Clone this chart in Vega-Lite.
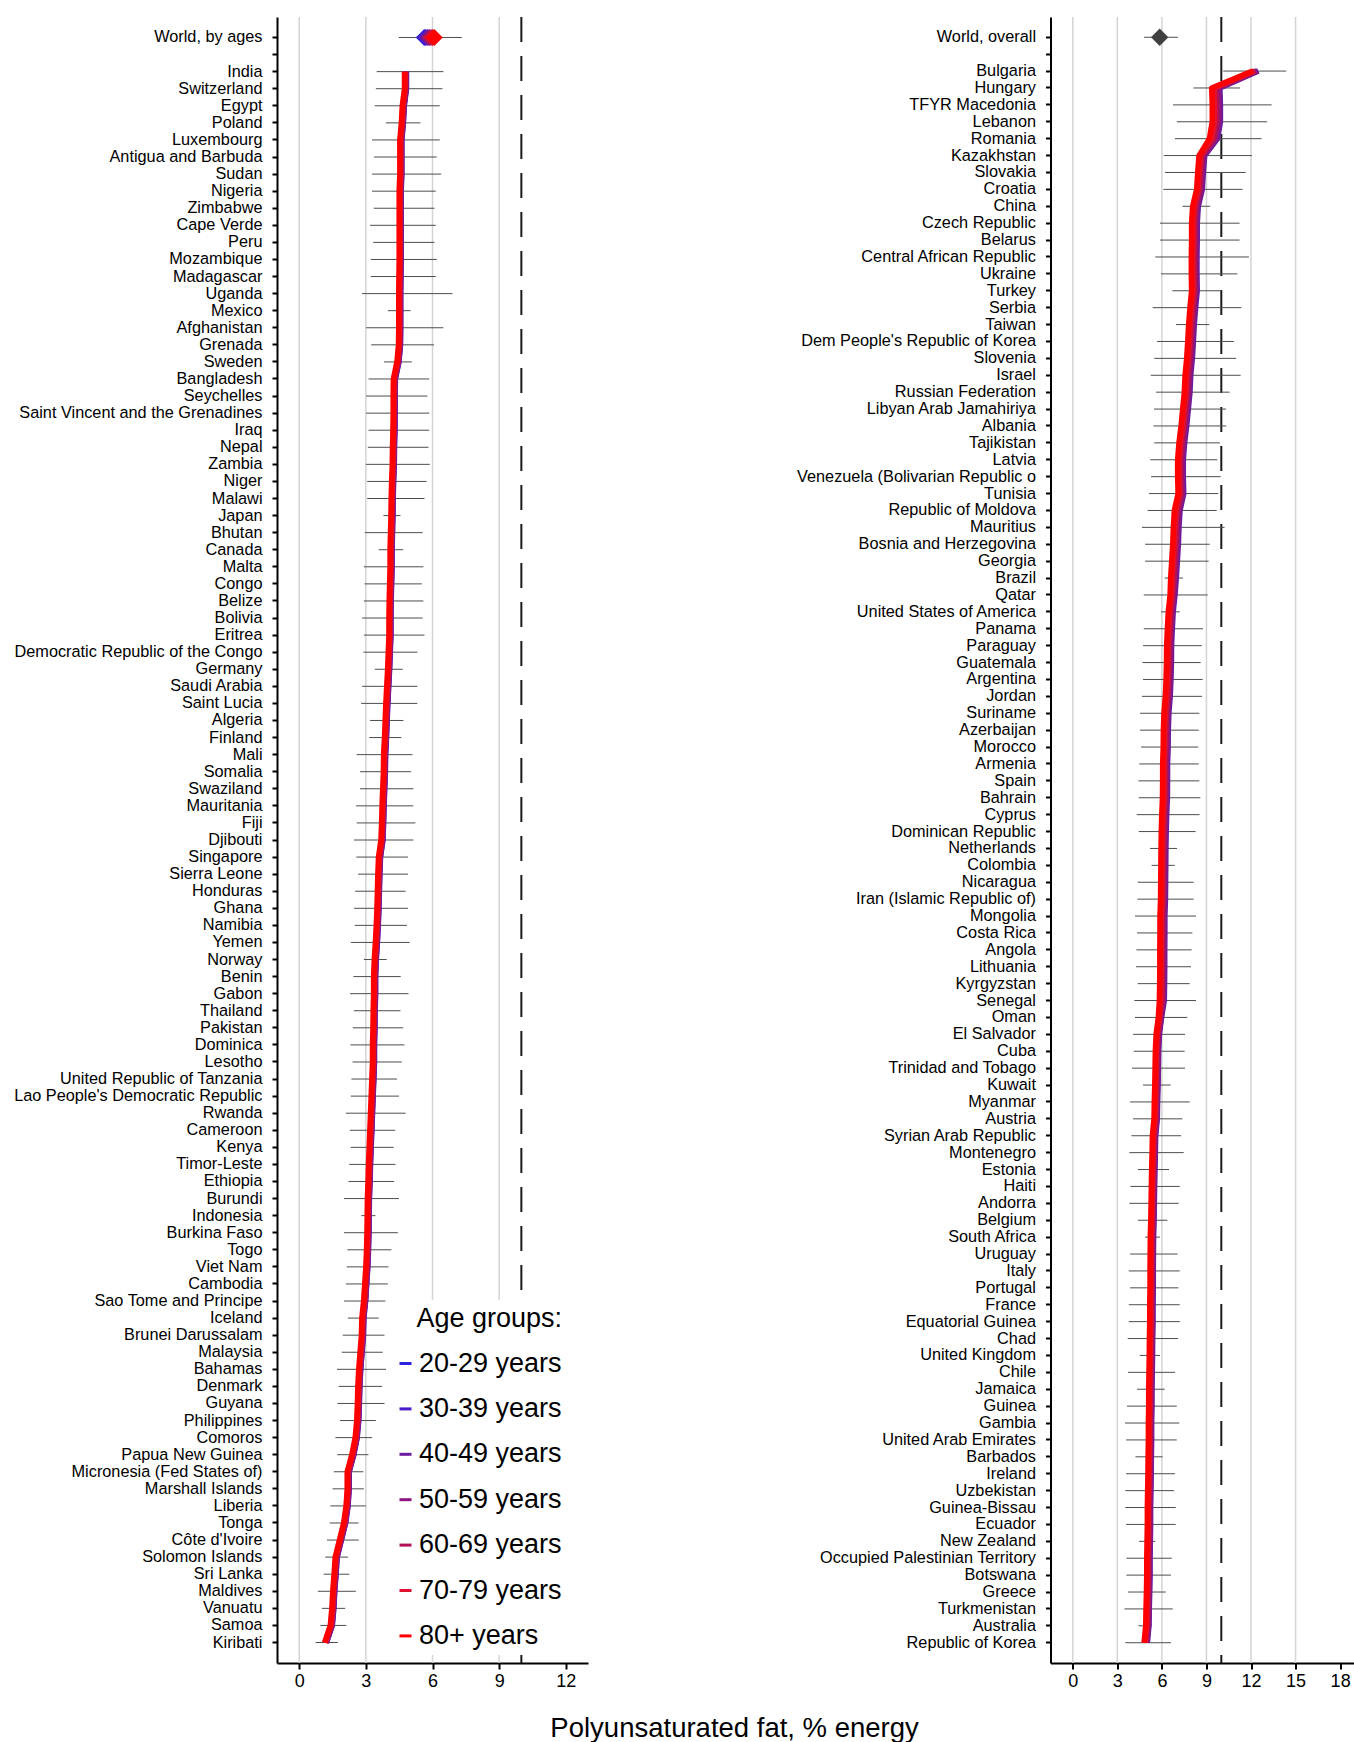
{
"$schema":"https://vega.github.io/schema/vega-lite/v6.json",
"background":"white",
"padding":{"left":13,"top":16,"right":0,"bottom":0},
"config":{"font":"Liberation Sans","view":{"stroke":null},
"axisY":{"domainColor":"black","domainWidth":2,"tickColor":"black","tickWidth":2,"tickSize":5,"labelFontSize":16.3,"labelColor":"black","labelPadding":10,"title":null,"grid":false,"labelLimit":400},
"axisX":{"domainColor":"black","domainWidth":2,"tickColor":"black","tickWidth":2,"tickSize":6,"labelFontSize":18,"labelColor":"black","labelPadding":3,"grid":false,"title":null}},
"title":{"text":"Polyunsaturated fat, % energy","orient":"bottom","anchor":"middle","fontSize":27.5,"fontWeight":"normal","color":"black","offset":25,"dx":51},
"spacing":207.5,
"resolve":{"scale":{"color":"independent","x":"independent","y":"independent"},"legend":{"color":"independent"}},
"datasets":{
"L":[
{"c":"World, by ages","i":1,"lo":4.48,"hi":7.32,"a20":5.63,"a30":5.70,"a40":5.78,"a50":5.85,"a60":5.93,"a70":6.00,"a80":6.08},
{"c":" ","i":2},
{"c":"India","i":3,"lo":3.49,"hi":6.49,"a20":4.80,"a30":4.82,"a40":4.83,"a50":4.81,"a60":4.79,"a70":4.77,"a80":4.74},
{"c":"Switzerland","i":4,"lo":3.45,"hi":6.45,"a20":4.80,"a30":4.82,"a40":4.83,"a50":4.81,"a60":4.79,"a70":4.77,"a80":4.74},
{"c":"Egypt","i":5,"lo":3.40,"hi":6.33,"a20":4.70,"a30":4.72,"a40":4.73,"a50":4.71,"a60":4.69,"a70":4.67,"a80":4.64},
{"c":"Poland","i":6,"lo":3.90,"hi":5.46,"a20":4.66,"a30":4.68,"a40":4.69,"a50":4.67,"a60":4.65,"a70":4.63,"a80":4.60},
{"c":"Luxembourg","i":7,"lo":3.28,"hi":6.33,"a20":4.59,"a30":4.61,"a40":4.62,"a50":4.60,"a60":4.58,"a70":4.56,"a80":4.53},
{"c":"Antigua and Barbuda","i":8,"lo":3.37,"hi":6.19,"a20":4.59,"a30":4.61,"a40":4.62,"a50":4.60,"a60":4.58,"a70":4.56,"a80":4.53},
{"c":"Sudan","i":9,"lo":3.28,"hi":6.39,"a20":4.59,"a30":4.61,"a40":4.62,"a50":4.60,"a60":4.58,"a70":4.56,"a80":4.53},
{"c":"Nigeria","i":10,"lo":3.28,"hi":6.15,"a20":4.56,"a30":4.58,"a40":4.59,"a50":4.57,"a60":4.55,"a70":4.53,"a80":4.50},
{"c":"Zimbabwe","i":11,"lo":3.36,"hi":6.09,"a20":4.56,"a30":4.58,"a40":4.59,"a50":4.57,"a60":4.55,"a70":4.53,"a80":4.50},
{"c":"Cape Verde","i":12,"lo":3.19,"hi":6.15,"a20":4.56,"a30":4.58,"a40":4.59,"a50":4.57,"a60":4.55,"a70":4.53,"a80":4.50},
{"c":"Peru","i":13,"lo":3.33,"hi":6.09,"a20":4.56,"a30":4.58,"a40":4.59,"a50":4.57,"a60":4.55,"a70":4.53,"a80":4.50},
{"c":"Mozambique","i":14,"lo":3.22,"hi":6.19,"a20":4.56,"a30":4.58,"a40":4.59,"a50":4.57,"a60":4.55,"a70":4.53,"a80":4.50},
{"c":"Madagascar","i":15,"lo":3.22,"hi":6.15,"a20":4.55,"a30":4.57,"a40":4.58,"a50":4.56,"a60":4.54,"a70":4.52,"a80":4.49},
{"c":"Uganda","i":16,"lo":2.83,"hi":6.90,"a20":4.54,"a30":4.56,"a40":4.57,"a50":4.55,"a60":4.53,"a70":4.51,"a80":4.48},
{"c":"Mexico","i":17,"lo":3.99,"hi":5.01,"a20":4.54,"a30":4.56,"a40":4.57,"a50":4.55,"a60":4.53,"a70":4.51,"a80":4.48},
{"c":"Afghanistan","i":18,"lo":3.01,"hi":6.49,"a20":4.54,"a30":4.56,"a40":4.57,"a50":4.55,"a60":4.53,"a70":4.51,"a80":4.48},
{"c":"Grenada","i":19,"lo":3.24,"hi":6.07,"a20":4.53,"a30":4.55,"a40":4.56,"a50":4.54,"a60":4.52,"a70":4.50,"a80":4.47},
{"c":"Sweden","i":20,"lo":3.82,"hi":5.07,"a20":4.46,"a30":4.48,"a40":4.49,"a50":4.47,"a60":4.45,"a70":4.43,"a80":4.40},
{"c":"Bangladesh","i":21,"lo":3.12,"hi":5.85,"a20":4.30,"a30":4.32,"a40":4.33,"a50":4.31,"a60":4.29,"a70":4.27,"a80":4.24},
{"c":"Seychelles","i":22,"lo":3.01,"hi":5.77,"a20":4.29,"a30":4.31,"a40":4.32,"a50":4.30,"a60":4.28,"a70":4.26,"a80":4.23},
{"c":"Saint Vincent and the Grenadines","i":23,"lo":3.01,"hi":5.85,"a20":4.29,"a30":4.31,"a40":4.32,"a50":4.30,"a60":4.28,"a70":4.26,"a80":4.23},
{"c":"Iraq","i":24,"lo":3.12,"hi":5.85,"a20":4.28,"a30":4.30,"a40":4.31,"a50":4.29,"a60":4.27,"a70":4.25,"a80":4.22},
{"c":"Nepal","i":25,"lo":3.09,"hi":5.82,"a20":4.26,"a30":4.28,"a40":4.29,"a50":4.27,"a60":4.25,"a70":4.23,"a80":4.20},
{"c":"Zambia","i":26,"lo":3.00,"hi":5.88,"a20":4.25,"a30":4.27,"a40":4.28,"a50":4.26,"a60":4.24,"a70":4.22,"a80":4.19},
{"c":"Niger","i":27,"lo":3.06,"hi":5.73,"a20":4.22,"a30":4.24,"a40":4.25,"a50":4.23,"a60":4.21,"a70":4.19,"a80":4.16},
{"c":"Malawi","i":28,"lo":3.06,"hi":5.64,"a20":4.20,"a30":4.22,"a40":4.23,"a50":4.21,"a60":4.19,"a70":4.17,"a80":4.14},
{"c":"Japan","i":29,"lo":3.79,"hi":4.56,"a20":4.19,"a30":4.21,"a40":4.22,"a50":4.20,"a60":4.18,"a70":4.16,"a80":4.13},
{"c":"Bhutan","i":30,"lo":2.95,"hi":5.56,"a20":4.17,"a30":4.19,"a40":4.20,"a50":4.18,"a60":4.16,"a70":4.14,"a80":4.11},
{"c":"Canada","i":31,"lo":3.58,"hi":4.68,"a20":4.15,"a30":4.17,"a40":4.18,"a50":4.16,"a60":4.14,"a70":4.12,"a80":4.09},
{"c":"Malta","i":32,"lo":2.91,"hi":5.59,"a20":4.15,"a30":4.17,"a40":4.18,"a50":4.16,"a60":4.14,"a70":4.12,"a80":4.09},
{"c":"Congo","i":33,"lo":2.94,"hi":5.52,"a20":4.13,"a30":4.15,"a40":4.16,"a50":4.14,"a60":4.12,"a70":4.10,"a80":4.07},
{"c":"Belize","i":34,"lo":2.91,"hi":5.59,"a20":4.11,"a30":4.13,"a40":4.14,"a50":4.12,"a60":4.10,"a70":4.08,"a80":4.05},
{"c":"Bolivia","i":35,"lo":2.83,"hi":5.56,"a20":4.10,"a30":4.12,"a40":4.13,"a50":4.11,"a60":4.09,"a70":4.07,"a80":4.04},
{"c":"Eritrea","i":36,"lo":2.91,"hi":5.64,"a20":4.10,"a30":4.12,"a40":4.13,"a50":4.11,"a60":4.09,"a70":4.07,"a80":4.04},
{"c":"Democratic Republic of the Congo","i":37,"lo":2.89,"hi":5.32,"a20":4.07,"a30":4.09,"a40":4.10,"a50":4.08,"a60":4.06,"a70":4.04,"a80":4.01},
{"c":"Germany","i":38,"lo":3.40,"hi":4.66,"a20":4.04,"a30":4.06,"a40":4.07,"a50":4.05,"a60":4.03,"a70":4.01,"a80":3.98},
{"c":"Saudi Arabia","i":39,"lo":2.83,"hi":5.32,"a20":4.00,"a30":4.02,"a40":4.03,"a50":4.01,"a60":3.99,"a70":3.97,"a80":3.94},
{"c":"Saint Lucia","i":40,"lo":2.79,"hi":5.32,"a20":3.96,"a30":3.98,"a40":3.99,"a50":3.97,"a60":3.95,"a70":3.93,"a80":3.90},
{"c":"Algeria","i":41,"lo":3.19,"hi":4.69,"a20":3.93,"a30":3.95,"a40":3.96,"a50":3.94,"a60":3.92,"a70":3.90,"a80":3.87},
{"c":"Finland","i":42,"lo":3.15,"hi":4.60,"a20":3.90,"a30":3.92,"a40":3.93,"a50":3.91,"a60":3.89,"a70":3.87,"a80":3.84},
{"c":"Mali","i":43,"lo":2.59,"hi":5.10,"a20":3.86,"a30":3.88,"a40":3.89,"a50":3.87,"a60":3.85,"a70":3.83,"a80":3.80},
{"c":"Somalia","i":44,"lo":2.74,"hi":5.04,"a20":3.85,"a30":3.87,"a40":3.88,"a50":3.86,"a60":3.84,"a70":3.82,"a80":3.79},
{"c":"Swaziland","i":45,"lo":2.74,"hi":5.14,"a20":3.82,"a30":3.84,"a40":3.85,"a50":3.83,"a60":3.81,"a70":3.79,"a80":3.76},
{"c":"Mauritania","i":46,"lo":2.56,"hi":5.14,"a20":3.79,"a30":3.81,"a40":3.82,"a50":3.80,"a60":3.78,"a70":3.76,"a80":3.73},
{"c":"Fiji","i":47,"lo":2.59,"hi":5.23,"a20":3.77,"a30":3.79,"a40":3.80,"a50":3.78,"a60":3.76,"a70":3.74,"a80":3.71},
{"c":"Djibouti","i":48,"lo":2.47,"hi":5.14,"a20":3.74,"a30":3.76,"a40":3.77,"a50":3.75,"a60":3.73,"a70":3.71,"a80":3.68},
{"c":"Singapore","i":49,"lo":2.57,"hi":4.90,"a20":3.63,"a30":3.65,"a40":3.66,"a50":3.64,"a60":3.62,"a70":3.60,"a80":3.57},
{"c":"Sierra Leone","i":50,"lo":2.65,"hi":4.90,"a20":3.60,"a30":3.62,"a40":3.63,"a50":3.61,"a60":3.59,"a70":3.57,"a80":3.54},
{"c":"Honduras","i":51,"lo":2.52,"hi":4.79,"a20":3.58,"a30":3.60,"a40":3.61,"a50":3.59,"a60":3.57,"a70":3.55,"a80":3.52},
{"c":"Ghana","i":52,"lo":2.47,"hi":4.90,"a20":3.56,"a30":3.58,"a40":3.59,"a50":3.57,"a60":3.55,"a70":3.53,"a80":3.50},
{"c":"Namibia","i":53,"lo":2.50,"hi":4.85,"a20":3.53,"a30":3.55,"a40":3.56,"a50":3.54,"a60":3.52,"a70":3.50,"a80":3.47},
{"c":"Yemen","i":54,"lo":2.32,"hi":4.97,"a20":3.49,"a30":3.51,"a40":3.52,"a50":3.50,"a60":3.48,"a70":3.46,"a80":3.43},
{"c":"Norway","i":55,"lo":2.91,"hi":3.94,"a20":3.44,"a30":3.46,"a40":3.47,"a50":3.45,"a60":3.43,"a70":3.41,"a80":3.38},
{"c":"Benin","i":56,"lo":2.44,"hi":4.57,"a20":3.41,"a30":3.43,"a40":3.44,"a50":3.42,"a60":3.40,"a70":3.38,"a80":3.35},
{"c":"Gabon","i":57,"lo":2.29,"hi":4.92,"a20":3.41,"a30":3.43,"a40":3.44,"a50":3.42,"a60":3.40,"a70":3.38,"a80":3.35},
{"c":"Thailand","i":58,"lo":2.46,"hi":4.56,"a20":3.39,"a30":3.41,"a40":3.42,"a50":3.40,"a60":3.38,"a70":3.36,"a80":3.33},
{"c":"Pakistan","i":59,"lo":2.41,"hi":4.68,"a20":3.38,"a30":3.40,"a40":3.41,"a50":3.39,"a60":3.37,"a70":3.35,"a80":3.32},
{"c":"Dominica","i":60,"lo":2.31,"hi":4.74,"a20":3.36,"a30":3.38,"a40":3.39,"a50":3.37,"a60":3.35,"a70":3.33,"a80":3.30},
{"c":"Lesotho","i":61,"lo":2.40,"hi":4.62,"a20":3.36,"a30":3.38,"a40":3.39,"a50":3.37,"a60":3.35,"a70":3.33,"a80":3.30},
{"c":"United Republic of Tanzania","i":62,"lo":2.35,"hi":4.40,"a20":3.33,"a30":3.35,"a40":3.36,"a50":3.34,"a60":3.32,"a70":3.30,"a80":3.27},
{"c":"Lao People's Democratic Republic","i":63,"lo":2.32,"hi":4.49,"a20":3.30,"a30":3.32,"a40":3.33,"a50":3.31,"a60":3.29,"a70":3.27,"a80":3.24},
{"c":"Rwanda","i":64,"lo":2.10,"hi":4.79,"a20":3.27,"a30":3.29,"a40":3.30,"a50":3.28,"a60":3.26,"a70":3.24,"a80":3.21},
{"c":"Cameroon","i":65,"lo":2.28,"hi":4.32,"a20":3.24,"a30":3.26,"a40":3.27,"a50":3.25,"a60":3.23,"a70":3.21,"a80":3.18},
{"c":"Kenya","i":66,"lo":2.32,"hi":4.25,"a20":3.21,"a30":3.23,"a40":3.24,"a50":3.22,"a60":3.20,"a70":3.18,"a80":3.15},
{"c":"Timor-Leste","i":67,"lo":2.25,"hi":4.33,"a20":3.18,"a30":3.20,"a40":3.21,"a50":3.19,"a60":3.17,"a70":3.15,"a80":3.12},
{"c":"Ethiopia","i":68,"lo":2.22,"hi":4.27,"a20":3.16,"a30":3.18,"a40":3.19,"a50":3.17,"a60":3.15,"a70":3.13,"a80":3.10},
{"c":"Burundi","i":69,"lo":2.02,"hi":4.49,"a20":3.13,"a30":3.15,"a40":3.16,"a50":3.14,"a60":3.12,"a70":3.10,"a80":3.07},
{"c":"Indonesia","i":70,"lo":2.79,"hi":3.43,"a20":3.12,"a30":3.14,"a40":3.15,"a50":3.13,"a60":3.11,"a70":3.09,"a80":3.06},
{"c":"Burkina Faso","i":71,"lo":2.02,"hi":4.44,"a20":3.11,"a30":3.13,"a40":3.14,"a50":3.12,"a60":3.10,"a70":3.08,"a80":3.05},
{"c":"Togo","i":72,"lo":2.17,"hi":4.15,"a20":3.09,"a30":3.11,"a40":3.12,"a50":3.10,"a60":3.08,"a70":3.06,"a80":3.03},
{"c":"Viet Nam","i":73,"lo":2.14,"hi":4.02,"a20":3.06,"a30":3.08,"a40":3.09,"a50":3.07,"a60":3.05,"a70":3.03,"a80":3.00},
{"c":"Cambodia","i":74,"lo":2.10,"hi":3.99,"a20":3.01,"a30":3.03,"a40":3.04,"a50":3.02,"a60":3.00,"a70":2.98,"a80":2.95},
{"c":"Sao Tome and Principe","i":75,"lo":2.02,"hi":3.88,"a20":2.96,"a30":2.98,"a40":2.99,"a50":2.97,"a60":2.95,"a70":2.93,"a80":2.90},
{"c":"Iceland","i":76,"lo":2.19,"hi":3.58,"a20":2.88,"a30":2.90,"a40":2.91,"a50":2.89,"a60":2.87,"a70":2.85,"a80":2.82},
{"c":"Brunei Darussalam","i":77,"lo":1.96,"hi":3.84,"a20":2.86,"a30":2.88,"a40":2.89,"a50":2.87,"a60":2.85,"a70":2.83,"a80":2.80},
{"c":"Malaysia","i":78,"lo":1.92,"hi":3.76,"a20":2.80,"a30":2.82,"a40":2.83,"a50":2.81,"a60":2.79,"a70":2.77,"a80":2.74},
{"c":"Bahamas","i":79,"lo":1.70,"hi":3.91,"a20":2.74,"a30":2.76,"a40":2.77,"a50":2.75,"a60":2.73,"a70":2.71,"a80":2.68},
{"c":"Denmark","i":80,"lo":1.77,"hi":3.73,"a20":2.70,"a30":2.72,"a40":2.73,"a50":2.71,"a60":2.69,"a70":2.67,"a80":2.64},
{"c":"Guyana","i":81,"lo":1.72,"hi":3.84,"a20":2.68,"a30":2.70,"a40":2.71,"a50":2.69,"a60":2.67,"a70":2.65,"a80":2.62},
{"c":"Philippines","i":82,"lo":1.84,"hi":3.45,"a20":2.65,"a30":2.67,"a40":2.68,"a50":2.66,"a60":2.64,"a70":2.62,"a80":2.59},
{"c":"Comoros","i":83,"lo":1.63,"hi":3.28,"a20":2.58,"a30":2.60,"a40":2.61,"a50":2.59,"a60":2.57,"a70":2.55,"a80":2.52},
{"c":"Papua New Guinea","i":84,"lo":1.71,"hi":3.12,"a20":2.43,"a30":2.45,"a40":2.46,"a50":2.44,"a60":2.42,"a70":2.40,"a80":2.37},
{"c":"Micronesia (Fed  States of)","i":85,"lo":1.56,"hi":2.89,"a20":2.22,"a30":2.24,"a40":2.25,"a50":2.23,"a60":2.21,"a70":2.19,"a80":2.16},
{"c":"Marshall Islands","i":86,"lo":1.50,"hi":2.91,"a20":2.22,"a30":2.24,"a40":2.25,"a50":2.23,"a60":2.21,"a70":2.19,"a80":2.16},
{"c":"Liberia","i":87,"lo":1.40,"hi":3.00,"a20":2.17,"a30":2.19,"a40":2.20,"a50":2.18,"a60":2.16,"a70":2.14,"a80":2.11},
{"c":"Tonga","i":88,"lo":1.37,"hi":2.67,"a20":2.06,"a30":2.08,"a40":2.09,"a50":2.07,"a60":2.05,"a70":2.03,"a80":2.00},
{"c":"Côte d'Ivoire","i":89,"lo":1.25,"hi":2.68,"a20":1.87,"a30":1.89,"a40":1.90,"a50":1.88,"a60":1.86,"a70":1.84,"a80":1.81},
{"c":"Solomon Islands","i":90,"lo":1.17,"hi":2.20,"a20":1.68,"a30":1.70,"a40":1.71,"a50":1.69,"a60":1.67,"a70":1.65,"a80":1.62},
{"c":"Sri Lanka","i":91,"lo":1.10,"hi":2.26,"a20":1.63,"a30":1.65,"a40":1.66,"a50":1.64,"a60":1.62,"a70":1.60,"a80":1.57},
{"c":"Maldives","i":92,"lo":0.84,"hi":2.55,"a20":1.57,"a30":1.59,"a40":1.60,"a50":1.58,"a60":1.56,"a70":1.54,"a80":1.51},
{"c":"Vanuatu","i":93,"lo":1.02,"hi":2.07,"a20":1.53,"a30":1.55,"a40":1.56,"a50":1.54,"a60":1.52,"a70":1.50,"a80":1.47},
{"c":"Samoa","i":94,"lo":0.95,"hi":2.12,"a20":1.46,"a30":1.48,"a40":1.49,"a50":1.47,"a60":1.45,"a70":1.43,"a80":1.40},
{"c":"Kiribati","i":95,"lo":0.74,"hi":1.74,"a20":1.20,"a30":1.22,"a40":1.23,"a50":1.21,"a60":1.19,"a70":1.17,"a80":1.14}
],
"R":[
{"c":"World, overall","i":1,"lo":4.80,"hi":7.08,"w":5.85},
{"c":" ","i":2},
{"c":"Bulgaria","i":3,"lo":10.13,"hi":14.37,"a20":12.38,"a30":12.44,"a40":12.50,"a50":12.42,"a60":12.32,"a70":12.22,"a80":12.10},
{"c":"Hungary","i":4,"lo":8.12,"hi":11.26,"a20":9.74,"a30":9.82,"a40":9.90,"a50":9.79,"a60":9.65,"a70":9.51,"a80":9.35},
{"c":"TFYR Macedonia","i":5,"lo":6.75,"hi":13.39,"a20":9.78,"a30":9.86,"a40":9.94,"a50":9.83,"a60":9.69,"a70":9.55,"a80":9.39},
{"c":"Lebanon","i":6,"lo":7.00,"hi":13.09,"a20":9.78,"a30":9.86,"a40":9.94,"a50":9.83,"a60":9.69,"a70":9.55,"a80":9.39},
{"c":"Romania","i":7,"lo":6.88,"hi":12.71,"a20":9.59,"a30":9.67,"a40":9.75,"a50":9.64,"a60":9.50,"a70":9.36,"a80":9.20},
{"c":"Kazakhstan","i":8,"lo":6.12,"hi":12.06,"a20":8.77,"a30":8.82,"a40":8.88,"a50":8.80,"a60":8.71,"a70":8.61,"a80":8.50},
{"c":"Slovakia","i":9,"lo":6.21,"hi":11.64,"a20":8.68,"a30":8.73,"a40":8.79,"a50":8.71,"a60":8.62,"a70":8.52,"a80":8.41},
{"c":"Croatia","i":10,"lo":6.10,"hi":11.43,"a20":8.61,"a30":8.66,"a40":8.72,"a50":8.64,"a60":8.55,"a70":8.45,"a80":8.34},
{"c":"China","i":11,"lo":7.38,"hi":9.26,"a20":8.34,"a30":8.39,"a40":8.45,"a50":8.37,"a60":8.28,"a70":8.18,"a80":8.07},
{"c":"Czech Republic","i":12,"lo":5.87,"hi":11.23,"a20":8.27,"a30":8.32,"a40":8.38,"a50":8.30,"a60":8.21,"a70":8.11,"a80":8.00},
{"c":"Belarus","i":13,"lo":5.87,"hi":11.23,"a20":8.27,"a30":8.32,"a40":8.38,"a50":8.30,"a60":8.21,"a70":8.11,"a80":8.00},
{"c":"Central African Republic","i":14,"lo":5.56,"hi":11.86,"a20":8.25,"a30":8.30,"a40":8.36,"a50":8.28,"a60":8.19,"a70":8.09,"a80":7.98},
{"c":"Ukraine","i":15,"lo":5.94,"hi":11.08,"a20":8.25,"a30":8.30,"a40":8.36,"a50":8.28,"a60":8.19,"a70":8.09,"a80":7.98},
{"c":"Turkey","i":16,"lo":6.70,"hi":9.91,"a20":8.27,"a30":8.32,"a40":8.38,"a50":8.30,"a60":8.21,"a70":8.11,"a80":8.00},
{"c":"Serbia","i":17,"lo":5.38,"hi":11.35,"a20":8.16,"a30":8.21,"a40":8.27,"a50":8.19,"a60":8.10,"a70":8.00,"a80":7.89},
{"c":"Taiwan","i":18,"lo":6.95,"hi":9.19,"a20":8.07,"a30":8.12,"a40":8.18,"a50":8.10,"a60":8.01,"a70":7.91,"a80":7.80},
{"c":"Dem  People's Republic of Korea","i":19,"lo":5.67,"hi":10.85,"a20":8.01,"a30":8.06,"a40":8.12,"a50":8.04,"a60":7.95,"a70":7.85,"a80":7.74},
{"c":"Slovenia","i":20,"lo":5.49,"hi":11.00,"a20":7.94,"a30":7.99,"a40":8.05,"a50":7.97,"a60":7.88,"a70":7.78,"a80":7.67},
{"c":"Israel","i":21,"lo":5.25,"hi":11.30,"a20":7.83,"a30":7.88,"a40":7.94,"a50":7.86,"a60":7.77,"a70":7.67,"a80":7.56},
{"c":"Russian Federation","i":22,"lo":5.61,"hi":10.56,"a20":7.78,"a30":7.83,"a40":7.89,"a50":7.81,"a60":7.72,"a70":7.62,"a80":7.51},
{"c":"Libyan Arab Jamahiriya","i":23,"lo":5.47,"hi":10.31,"a20":7.67,"a30":7.72,"a40":7.78,"a50":7.70,"a60":7.61,"a70":7.51,"a80":7.40},
{"c":"Albania","i":24,"lo":5.43,"hi":10.34,"a20":7.56,"a30":7.61,"a40":7.67,"a50":7.59,"a60":7.50,"a70":7.40,"a80":7.29},
{"c":"Tajikistan","i":25,"lo":5.49,"hi":9.91,"a20":7.42,"a30":7.47,"a40":7.53,"a50":7.45,"a60":7.36,"a70":7.26,"a80":7.15},
{"c":"Latvia","i":26,"lo":5.22,"hi":9.73,"a20":7.33,"a30":7.38,"a40":7.44,"a50":7.36,"a60":7.27,"a70":7.17,"a80":7.06},
{"c":"Venezuela (Bolivarian Republic o","i":27,"lo":5.27,"hi":9.96,"a20":7.33,"a30":7.38,"a40":7.44,"a50":7.36,"a60":7.27,"a70":7.17,"a80":7.06},
{"c":"Tunisia","i":28,"lo":5.13,"hi":9.80,"a20":7.36,"a30":7.41,"a40":7.47,"a50":7.39,"a60":7.30,"a70":7.20,"a80":7.09},
{"c":"Republic of Moldova","i":29,"lo":5.04,"hi":9.69,"a20":7.11,"a30":7.16,"a40":7.22,"a50":7.14,"a60":7.05,"a70":6.95,"a80":6.84},
{"c":"Mauritius","i":30,"lo":4.66,"hi":10.22,"a20":7.04,"a30":7.09,"a40":7.15,"a50":7.07,"a60":6.98,"a70":6.88,"a80":6.77},
{"c":"Bosnia and Herzegovina","i":31,"lo":4.87,"hi":9.22,"a20":7.00,"a30":7.05,"a40":7.11,"a50":7.03,"a60":6.94,"a70":6.84,"a80":6.73},
{"c":"Georgia","i":32,"lo":4.87,"hi":9.15,"a20":6.93,"a30":6.98,"a40":7.04,"a50":6.96,"a60":6.87,"a70":6.77,"a80":6.66},
{"c":"Brazil","i":33,"lo":6.19,"hi":7.42,"a20":6.86,"a30":6.91,"a40":6.97,"a50":6.89,"a60":6.80,"a70":6.70,"a80":6.59},
{"c":"Qatar","i":34,"lo":4.78,"hi":9.08,"a20":6.78,"a30":6.83,"a40":6.88,"a50":6.81,"a60":6.73,"a70":6.65,"a80":6.55},
{"c":"United States of America","i":35,"lo":5.94,"hi":7.20,"a20":6.66,"a30":6.71,"a40":6.76,"a50":6.69,"a60":6.61,"a70":6.53,"a80":6.43},
{"c":"Panama","i":36,"lo":4.78,"hi":8.77,"a20":6.60,"a30":6.65,"a40":6.70,"a50":6.63,"a60":6.55,"a70":6.47,"a80":6.37},
{"c":"Paraguay","i":37,"lo":4.73,"hi":8.68,"a20":6.55,"a30":6.60,"a40":6.65,"a50":6.58,"a60":6.50,"a70":6.42,"a80":6.32},
{"c":"Guatemala","i":38,"lo":4.69,"hi":8.61,"a20":6.54,"a30":6.59,"a40":6.64,"a50":6.57,"a60":6.49,"a70":6.41,"a80":6.31},
{"c":"Argentina","i":39,"lo":4.73,"hi":8.74,"a20":6.51,"a30":6.56,"a40":6.61,"a50":6.54,"a60":6.46,"a70":6.38,"a80":6.28},
{"c":"Jordan","i":40,"lo":4.66,"hi":8.70,"a20":6.46,"a30":6.51,"a40":6.56,"a50":6.49,"a60":6.41,"a70":6.33,"a80":6.23},
{"c":"Suriname","i":41,"lo":4.53,"hi":8.52,"a20":6.37,"a30":6.42,"a40":6.47,"a50":6.40,"a60":6.32,"a70":6.24,"a80":6.14},
{"c":"Azerbaijan","i":42,"lo":4.53,"hi":8.48,"a20":6.33,"a30":6.38,"a40":6.43,"a50":6.36,"a60":6.28,"a70":6.20,"a80":6.10},
{"c":"Morocco","i":43,"lo":4.60,"hi":8.45,"a20":6.32,"a30":6.37,"a40":6.42,"a50":6.35,"a60":6.27,"a70":6.19,"a80":6.09},
{"c":"Armenia","i":44,"lo":4.48,"hi":8.48,"a20":6.28,"a30":6.33,"a40":6.38,"a50":6.31,"a60":6.23,"a70":6.15,"a80":6.05},
{"c":"Spain","i":45,"lo":4.42,"hi":8.52,"a20":6.28,"a30":6.33,"a40":6.38,"a50":6.31,"a60":6.23,"a70":6.15,"a80":6.05},
{"c":"Bahrain","i":46,"lo":4.44,"hi":8.59,"a20":6.27,"a30":6.32,"a40":6.37,"a50":6.30,"a60":6.22,"a70":6.14,"a80":6.04},
{"c":"Cyprus","i":47,"lo":4.30,"hi":8.54,"a20":6.22,"a30":6.27,"a40":6.32,"a50":6.25,"a60":6.17,"a70":6.09,"a80":5.99},
{"c":"Dominican Republic","i":48,"lo":4.44,"hi":8.27,"a20":6.19,"a30":6.24,"a40":6.29,"a50":6.22,"a60":6.14,"a70":6.06,"a80":5.96},
{"c":"Netherlands","i":49,"lo":5.20,"hi":7.02,"a20":6.17,"a30":6.22,"a40":6.27,"a50":6.20,"a60":6.12,"a70":6.04,"a80":5.94},
{"c":"Colombia","i":50,"lo":5.31,"hi":6.86,"a20":6.16,"a30":6.21,"a40":6.26,"a50":6.19,"a60":6.11,"a70":6.03,"a80":5.93},
{"c":"Nicaragua","i":51,"lo":4.37,"hi":8.14,"a20":6.15,"a30":6.20,"a40":6.25,"a50":6.18,"a60":6.10,"a70":6.02,"a80":5.92},
{"c":"Iran (Islamic Republic of)","i":52,"lo":4.35,"hi":8.14,"a20":6.14,"a30":6.19,"a40":6.24,"a50":6.17,"a60":6.09,"a70":6.01,"a80":5.91},
{"c":"Mongolia","i":53,"lo":4.19,"hi":8.30,"a20":6.10,"a30":6.15,"a40":6.20,"a50":6.13,"a60":6.05,"a70":5.97,"a80":5.87},
{"c":"Costa Rica","i":54,"lo":4.33,"hi":8.05,"a20":6.10,"a30":6.15,"a40":6.20,"a50":6.13,"a60":6.05,"a70":5.97,"a80":5.87},
{"c":"Angola","i":55,"lo":4.28,"hi":8.00,"a20":6.09,"a30":6.14,"a40":6.19,"a50":6.12,"a60":6.04,"a70":5.96,"a80":5.86},
{"c":"Lithuania","i":56,"lo":4.26,"hi":7.96,"a20":6.09,"a30":6.14,"a40":6.19,"a50":6.12,"a60":6.04,"a70":5.96,"a80":5.86},
{"c":"Kyrgyzstan","i":57,"lo":4.37,"hi":7.87,"a20":6.08,"a30":6.13,"a40":6.18,"a50":6.11,"a60":6.03,"a70":5.95,"a80":5.85},
{"c":"Senegal","i":58,"lo":4.15,"hi":8.30,"a20":6.06,"a30":6.11,"a40":6.16,"a50":6.09,"a60":6.01,"a70":5.93,"a80":5.83},
{"c":"Oman","i":59,"lo":4.19,"hi":7.71,"a20":5.91,"a30":5.95,"a40":5.98,"a50":5.94,"a60":5.88,"a70":5.83,"a80":5.76},
{"c":"El Salvador","i":60,"lo":4.06,"hi":7.56,"a20":5.76,"a30":5.80,"a40":5.83,"a50":5.79,"a60":5.73,"a70":5.68,"a80":5.61},
{"c":"Cuba","i":61,"lo":4.10,"hi":7.53,"a20":5.71,"a30":5.75,"a40":5.78,"a50":5.74,"a60":5.68,"a70":5.63,"a80":5.56},
{"c":"Trinidad and Tobago","i":62,"lo":3.99,"hi":7.56,"a20":5.69,"a30":5.73,"a40":5.76,"a50":5.72,"a60":5.66,"a70":5.61,"a80":5.54},
{"c":"Kuwait","i":63,"lo":4.73,"hi":6.59,"a20":5.67,"a30":5.71,"a40":5.74,"a50":5.70,"a60":5.64,"a70":5.59,"a80":5.52},
{"c":"Myanmar","i":64,"lo":3.86,"hi":7.87,"a20":5.64,"a30":5.68,"a40":5.71,"a50":5.67,"a60":5.61,"a70":5.56,"a80":5.49},
{"c":"Austria","i":65,"lo":4.06,"hi":7.38,"a20":5.62,"a30":5.66,"a40":5.69,"a50":5.65,"a60":5.59,"a70":5.54,"a80":5.47},
{"c":"Syrian Arab Republic","i":66,"lo":3.95,"hi":7.29,"a20":5.51,"a30":5.55,"a40":5.58,"a50":5.54,"a60":5.48,"a70":5.43,"a80":5.36},
{"c":"Montenegro","i":67,"lo":3.81,"hi":7.47,"a20":5.49,"a30":5.53,"a40":5.56,"a50":5.52,"a60":5.46,"a70":5.41,"a80":5.34},
{"c":"Estonia","i":68,"lo":4.39,"hi":6.48,"a20":5.46,"a30":5.50,"a40":5.53,"a50":5.49,"a60":5.43,"a70":5.38,"a80":5.31},
{"c":"Haiti","i":69,"lo":3.88,"hi":7.20,"a20":5.44,"a30":5.48,"a40":5.51,"a50":5.47,"a60":5.41,"a70":5.36,"a80":5.29},
{"c":"Andorra","i":70,"lo":3.81,"hi":7.13,"a20":5.42,"a30":5.46,"a40":5.49,"a50":5.45,"a60":5.39,"a70":5.34,"a80":5.27},
{"c":"Belgium","i":71,"lo":4.39,"hi":6.37,"a20":5.40,"a30":5.44,"a40":5.47,"a50":5.43,"a60":5.37,"a70":5.32,"a80":5.25},
{"c":"South Africa","i":72,"lo":4.87,"hi":5.87,"a20":5.37,"a30":5.41,"a40":5.44,"a50":5.40,"a60":5.34,"a70":5.29,"a80":5.22},
{"c":"Uruguay","i":73,"lo":3.86,"hi":7.06,"a20":5.36,"a30":5.40,"a40":5.43,"a50":5.39,"a60":5.33,"a70":5.28,"a80":5.21},
{"c":"Italy","i":74,"lo":3.77,"hi":7.20,"a20":5.35,"a30":5.39,"a40":5.42,"a50":5.38,"a60":5.32,"a70":5.27,"a80":5.20},
{"c":"Portugal","i":75,"lo":3.86,"hi":7.11,"a20":5.35,"a30":5.39,"a40":5.42,"a50":5.38,"a60":5.32,"a70":5.27,"a80":5.20},
{"c":"France","i":76,"lo":3.77,"hi":7.20,"a20":5.33,"a30":5.37,"a40":5.40,"a50":5.36,"a60":5.30,"a70":5.25,"a80":5.18},
{"c":"Equatorial Guinea","i":77,"lo":3.77,"hi":7.20,"a20":5.33,"a30":5.37,"a40":5.40,"a50":5.36,"a60":5.30,"a70":5.25,"a80":5.18},
{"c":"Chad","i":78,"lo":3.70,"hi":7.09,"a20":5.31,"a30":5.35,"a40":5.38,"a50":5.34,"a60":5.28,"a70":5.23,"a80":5.16},
{"c":"United Kingdom","i":79,"lo":4.51,"hi":5.87,"a20":5.30,"a30":5.34,"a40":5.37,"a50":5.33,"a60":5.27,"a70":5.22,"a80":5.15},
{"c":"Chile","i":80,"lo":3.72,"hi":6.88,"a20":5.28,"a30":5.32,"a40":5.35,"a50":5.31,"a60":5.25,"a70":5.20,"a80":5.13},
{"c":"Jamaica","i":81,"lo":4.33,"hi":6.19,"a20":5.26,"a30":5.30,"a40":5.33,"a50":5.29,"a60":5.23,"a70":5.18,"a80":5.11},
{"c":"Guinea","i":82,"lo":3.65,"hi":7.00,"a20":5.26,"a30":5.30,"a40":5.33,"a50":5.29,"a60":5.23,"a70":5.18,"a80":5.11},
{"c":"Gambia","i":83,"lo":3.52,"hi":7.17,"a20":5.24,"a30":5.28,"a40":5.31,"a50":5.27,"a60":5.21,"a70":5.16,"a80":5.09},
{"c":"United Arab Emirates","i":84,"lo":3.59,"hi":7.00,"a20":5.24,"a30":5.28,"a40":5.31,"a50":5.27,"a60":5.21,"a70":5.16,"a80":5.09},
{"c":"Barbados","i":85,"lo":4.22,"hi":6.05,"a20":5.22,"a30":5.26,"a40":5.29,"a50":5.25,"a60":5.19,"a70":5.14,"a80":5.07},
{"c":"Ireland","i":86,"lo":3.59,"hi":6.88,"a20":5.21,"a30":5.25,"a40":5.28,"a50":5.24,"a60":5.18,"a70":5.13,"a80":5.06},
{"c":"Uzbekistan","i":87,"lo":3.54,"hi":6.82,"a20":5.19,"a30":5.23,"a40":5.26,"a50":5.22,"a60":5.16,"a70":5.11,"a80":5.04},
{"c":"Guinea-Bissau","i":88,"lo":3.54,"hi":6.93,"a20":5.17,"a30":5.21,"a40":5.24,"a50":5.20,"a60":5.14,"a70":5.09,"a80":5.02},
{"c":"Ecuador","i":89,"lo":3.59,"hi":6.93,"a20":5.17,"a30":5.21,"a40":5.24,"a50":5.20,"a60":5.14,"a70":5.09,"a80":5.02},
{"c":"New Zealand","i":90,"lo":4.46,"hi":5.56,"a20":5.15,"a30":5.19,"a40":5.22,"a50":5.18,"a60":5.12,"a70":5.07,"a80":5.00},
{"c":"Occupied Palestinian Territory","i":91,"lo":3.61,"hi":6.66,"a20":5.13,"a30":5.17,"a40":5.20,"a50":5.16,"a60":5.10,"a70":5.05,"a80":4.98},
{"c":"Botswana","i":92,"lo":3.61,"hi":6.61,"a20":5.13,"a30":5.17,"a40":5.20,"a50":5.16,"a60":5.10,"a70":5.05,"a80":4.98},
{"c":"Greece","i":93,"lo":3.72,"hi":6.26,"a20":5.11,"a30":5.15,"a40":5.18,"a50":5.14,"a60":5.08,"a70":5.03,"a80":4.96},
{"c":"Turkmenistan","i":94,"lo":3.48,"hi":6.73,"a20":5.08,"a30":5.12,"a40":5.15,"a50":5.11,"a60":5.05,"a70":5.00,"a80":4.93},
{"c":"Australia","i":95,"lo":4.42,"hi":5.31,"a20":5.06,"a30":5.10,"a40":5.13,"a50":5.09,"a60":5.03,"a70":4.98,"a80":4.91},
{"c":"Republic of Korea","i":96,"lo":3.54,"hi":6.61,"a20":4.95,"a30":4.99,"a40":5.02,"a50":4.98,"a60":4.92,"a70":4.87,"a80":4.80}
]},
"hconcat":[
{"width":311,"height":1646,"data":{"name":"L"},
"layer":[
{"data":{"values":[{"g":0},{"g":3},{"g":6},{"g":9}]},"mark":{"type":"rule","color":"#d4d4d4","strokeWidth":1.5},
"encoding":{"x":{"field":"g","type":"quantitative","scale":{"domain":[-1,13],"nice":false,"zero":false},"axis":{"values":[0,3,6,9,12]}}}},
{"data":{"values":[{"r":10}]},"mark":{"type":"rule","color":"#1a1a1a","strokeWidth":2,"strokeDash":[25,14]},
"encoding":{"x":{"field":"r","type":"quantitative"}}},
{"mark":{"type":"tick","opacity":0},"encoding":{"y":{"field":"c","type":"nominal","sort":{"field":"i","op":"min"},"scale":{"type":"band","paddingInner":0,"paddingOuter":0.7}}}},
{"mark":{"type":"rule","color":"#4d4d4d","strokeWidth":1},
"encoding":{"x":{"field":"lo","type":"quantitative"},"x2":{"field":"hi"},"y":{"field":"c","type":"nominal","sort":{"field":"i","op":"min"}}}},
{"transform":[{"filter":"datum.i > 2"},{"fold":["a20","a30","a40","a50","a60","a70","a80"],"as":["age","v"]}],
"mark":{"type":"line","strokeWidth":5.5,"strokeJoin":"round"},
"encoding":{"x":{"field":"v","type":"quantitative"},"y":{"field":"c","type":"nominal","sort":{"field":"i","op":"min"}},"order":{"field":"i","type":"quantitative"},
"color":{"field":"age","type":"nominal","scale":{"domain":["a20","a30","a40","a50","a60","a70","a80"],"range":["#2b22e0","#4a1ccc","#6c1a9e","#8e1680","#b01255","#e0102e","#ff0000"]},
"legend":{"orient":"none","legendX":109,"legendY":1283,"title":"Age groups:","titleAnchor":"end","titleFontSize":27,"titleFontWeight":"normal","titleColor":"black","titlePadding":17,"labelFontSize":27,"labelColor":"black","labelLimit":400,"labelOffset":0,"symbolType":"stroke","symbolSize":144,"symbolStrokeWidth":3,"rowPadding":17.4,"padding":6,"fillColor":"white",
"labelExpr":"{'a20':'20-29 years','a30':'30-39 years','a40':'40-49 years','a50':'50-59 years','a60':'60-69 years','a70':'70-79 years','a80':'80+ years'}[datum.label]"}}}},
{"transform":[{"filter":"datum.i == 1"},{"fold":["a20","a30","a40","a50","a60","a70","a80"],"as":["age","v"]}],
"mark":{"type":"point","shape":"diamond","filled":true,"size":289,"opacity":1},
"encoding":{"x":{"field":"v","type":"quantitative"},"y":{"field":"c","type":"nominal","sort":{"field":"i","op":"min"}},"color":{"field":"age","type":"nominal"}}}
]},
{"width":303,"height":1646,"data":{"name":"R"},
"layer":[
{"data":{"values":[{"g":0},{"g":3},{"g":6},{"g":9},{"g":12},{"g":15}]},"mark":{"type":"rule","color":"#d4d4d4","strokeWidth":1.5},
"encoding":{"x":{"field":"g","type":"quantitative","scale":{"domain":[-1.5,18.9],"nice":false,"zero":false},"axis":{"values":[0,3,6,9,12,15,18]}}}},
{"data":{"values":[{"r":10}]},"mark":{"type":"rule","color":"#1a1a1a","strokeWidth":2,"strokeDash":[25,14]},
"encoding":{"x":{"field":"r","type":"quantitative"}}},
{"mark":{"type":"tick","opacity":0},"encoding":{"y":{"field":"c","type":"nominal","sort":{"field":"i","op":"min"},"scale":{"type":"band","paddingInner":0,"paddingOuter":0.7}}}},
{"mark":{"type":"rule","color":"#4d4d4d","strokeWidth":1},
"encoding":{"x":{"field":"lo","type":"quantitative"},"x2":{"field":"hi"},"y":{"field":"c","type":"nominal","sort":{"field":"i","op":"min"}}}},
{"transform":[{"filter":"datum.i > 2"},{"fold":["a20","a30","a40","a50","a60","a70","a80"],"as":["age","v"]}],
"mark":{"type":"line","strokeWidth":5.5,"strokeJoin":"round"},
"encoding":{"x":{"field":"v","type":"quantitative"},"y":{"field":"c","type":"nominal","sort":{"field":"i","op":"min"}},"order":{"field":"i","type":"quantitative"},
"color":{"field":"age","type":"nominal","scale":{"domain":["a20","a30","a40","a50","a60","a70","a80"],"range":["#2b22e0","#4a1ccc","#6c1a9e","#8e1680","#b01255","#e0102e","#ff0000"]},"legend":null}}},
{"transform":[{"filter":"datum.i == 1"}],
"mark":{"type":"point","shape":"diamond","filled":true,"size":300,"opacity":1,"color":"#404040"},
"encoding":{"x":{"field":"w","type":"quantitative"},"y":{"field":"c","type":"nominal","sort":{"field":"i","op":"min"}}}}
]}
]}
